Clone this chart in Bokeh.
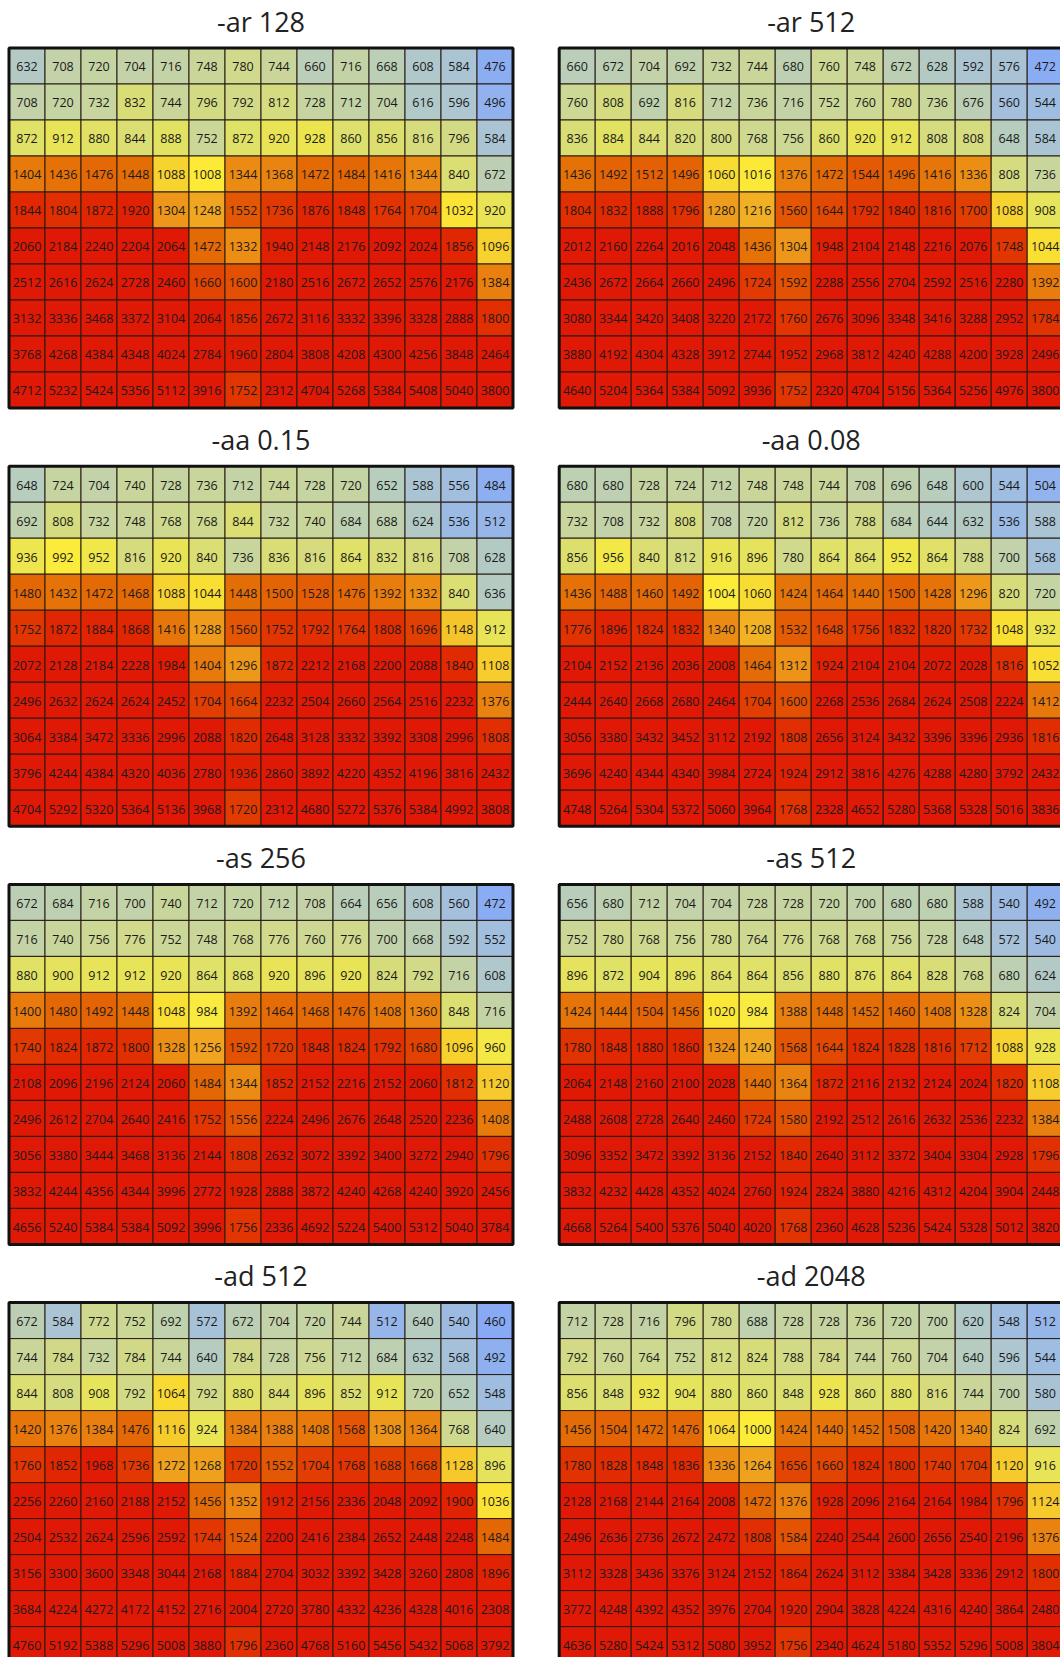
import numpy as np
from bokeh.plotting import figure
from bokeh.models import ColumnDataSource, Range1d, LinearColorMapper
from bokeh.transform import transform
from bokeh.core.properties import value
from bokeh.embed import file_html
from bokeh.resources import INLINE

# ---------------- data ----------------
titles = ["-ar 128", "-ar 512", "-aa 0.15", "-aa 0.08",
          "-as 256", "-as 512", "-ad 512", "-ad 2048"]

ar_128 = [
    [632, 708, 720, 704, 716, 748, 780, 744, 660, 716, 668, 608, 584, 476],
    [708, 720, 732, 832, 744, 796, 792, 812, 728, 712, 704, 616, 596, 496],
    [872, 912, 880, 844, 888, 752, 872, 920, 928, 860, 856, 816, 796, 584],
    [1404, 1436, 1476, 1448, 1088, 1008, 1344, 1368, 1472, 1484, 1416, 1344, 840, 672],
    [1844, 1804, 1872, 1920, 1304, 1248, 1552, 1736, 1876, 1848, 1764, 1704, 1032, 920],
    [2060, 2184, 2240, 2204, 2064, 1472, 1332, 1940, 2148, 2176, 2092, 2024, 1856, 1096],
    [2512, 2616, 2624, 2728, 2460, 1660, 1600, 2180, 2516, 2672, 2652, 2576, 2176, 1384],
    [3132, 3336, 3468, 3372, 3104, 2064, 1856, 2672, 3116, 3332, 3396, 3328, 2888, 1800],
    [3768, 4268, 4384, 4348, 4024, 2784, 1960, 2804, 3808, 4208, 4300, 4256, 3848, 2464],
    [4712, 5232, 5424, 5356, 5112, 3916, 1752, 2312, 4704, 5268, 5384, 5408, 5040, 3800],
]
ar_512 = [
    [660, 672, 704, 692, 732, 744, 680, 760, 748, 672, 628, 592, 576, 472],
    [760, 808, 692, 816, 712, 736, 716, 752, 760, 780, 736, 676, 560, 544],
    [836, 884, 844, 820, 800, 768, 756, 860, 920, 912, 808, 808, 648, 584],
    [1436, 1492, 1512, 1496, 1060, 1016, 1376, 1472, 1544, 1496, 1416, 1336, 808, 736],
    [1804, 1832, 1888, 1796, 1280, 1216, 1560, 1644, 1792, 1840, 1816, 1700, 1088, 908],
    [2012, 2160, 2264, 2016, 2048, 1436, 1304, 1948, 2104, 2148, 2216, 2076, 1748, 1044],
    [2436, 2672, 2664, 2660, 2496, 1724, 1592, 2288, 2556, 2704, 2592, 2516, 2280, 1392],
    [3080, 3344, 3420, 3408, 3220, 2172, 1760, 2676, 3096, 3348, 3416, 3288, 2952, 1784],
    [3880, 4192, 4304, 4328, 3912, 2744, 1952, 2968, 3812, 4240, 4288, 4200, 3928, 2496],
    [4640, 5204, 5364, 5384, 5092, 3936, 1752, 2320, 4704, 5156, 5364, 5256, 4976, 3800],
]
aa_015 = [
    [648, 724, 704, 740, 728, 736, 712, 744, 728, 720, 652, 588, 556, 484],
    [692, 808, 732, 748, 768, 768, 844, 732, 740, 684, 688, 624, 536, 512],
    [936, 992, 952, 816, 920, 840, 736, 836, 816, 864, 832, 816, 708, 628],
    [1480, 1432, 1472, 1468, 1088, 1044, 1448, 1500, 1528, 1476, 1392, 1332, 840, 636],
    [1752, 1872, 1884, 1868, 1416, 1288, 1560, 1752, 1792, 1764, 1808, 1696, 1148, 912],
    [2072, 2128, 2184, 2228, 1984, 1404, 1296, 1872, 2212, 2168, 2200, 2088, 1840, 1108],
    [2496, 2632, 2624, 2624, 2452, 1704, 1664, 2232, 2504, 2660, 2564, 2516, 2232, 1376],
    [3064, 3384, 3472, 3336, 2996, 2088, 1820, 2648, 3128, 3332, 3392, 3308, 2996, 1808],
    [3796, 4244, 4384, 4320, 4036, 2780, 1936, 2860, 3892, 4220, 4352, 4196, 3816, 2432],
    [4704, 5292, 5320, 5364, 5136, 3968, 1720, 2312, 4680, 5272, 5376, 5384, 4992, 3808],
]
aa_008 = [
    [680, 680, 728, 724, 712, 748, 748, 744, 708, 696, 648, 600, 544, 504],
    [732, 708, 732, 808, 708, 720, 812, 736, 788, 684, 644, 632, 536, 588],
    [856, 956, 840, 812, 916, 896, 780, 864, 864, 952, 864, 788, 700, 568],
    [1436, 1488, 1460, 1492, 1004, 1060, 1424, 1464, 1440, 1500, 1428, 1296, 820, 720],
    [1776, 1896, 1824, 1832, 1340, 1208, 1532, 1648, 1756, 1832, 1820, 1732, 1048, 932],
    [2104, 2152, 2136, 2036, 2008, 1464, 1312, 1924, 2104, 2104, 2072, 2028, 1816, 1052],
    [2444, 2640, 2668, 2680, 2464, 1704, 1600, 2268, 2536, 2684, 2624, 2508, 2224, 1412],
    [3056, 3380, 3432, 3452, 3112, 2192, 1808, 2656, 3124, 3432, 3396, 3396, 2936, 1816],
    [3696, 4240, 4344, 4340, 3984, 2724, 1924, 2912, 3816, 4276, 4288, 4280, 3792, 2432],
    [4748, 5264, 5304, 5372, 5060, 3964, 1768, 2328, 4652, 5280, 5368, 5328, 5016, 3836],
]
as_256 = [
    [672, 684, 716, 700, 740, 712, 720, 712, 708, 664, 656, 608, 560, 472],
    [716, 740, 756, 776, 752, 748, 768, 776, 760, 776, 700, 668, 592, 552],
    [880, 900, 912, 912, 920, 864, 868, 920, 896, 920, 824, 792, 716, 608],
    [1400, 1480, 1492, 1448, 1048, 984, 1392, 1464, 1468, 1476, 1408, 1360, 848, 716],
    [1740, 1824, 1872, 1800, 1328, 1256, 1592, 1720, 1848, 1824, 1792, 1680, 1096, 960],
    [2108, 2096, 2196, 2124, 2060, 1484, 1344, 1852, 2152, 2216, 2152, 2060, 1812, 1120],
    [2496, 2612, 2704, 2640, 2416, 1752, 1556, 2224, 2496, 2676, 2648, 2520, 2236, 1408],
    [3056, 3380, 3444, 3468, 3136, 2144, 1808, 2632, 3072, 3392, 3400, 3272, 2940, 1796],
    [3832, 4244, 4356, 4344, 3996, 2772, 1928, 2888, 3872, 4240, 4268, 4240, 3920, 2456],
    [4656, 5240, 5384, 5384, 5092, 3996, 1756, 2336, 4692, 5224, 5400, 5312, 5040, 3784],
]
as_512 = [
    [656, 680, 712, 704, 704, 728, 728, 720, 700, 680, 680, 588, 540, 492],
    [752, 780, 768, 756, 780, 764, 776, 768, 768, 756, 728, 648, 572, 540],
    [896, 872, 904, 896, 864, 864, 856, 880, 876, 864, 828, 768, 680, 624],
    [1424, 1444, 1504, 1456, 1020, 984, 1388, 1448, 1452, 1460, 1408, 1328, 824, 704],
    [1780, 1848, 1880, 1860, 1324, 1240, 1568, 1644, 1824, 1828, 1816, 1712, 1088, 928],
    [2064, 2148, 2160, 2100, 2028, 1440, 1364, 1872, 2116, 2132, 2124, 2024, 1820, 1108],
    [2488, 2608, 2728, 2640, 2460, 1724, 1580, 2192, 2512, 2616, 2632, 2536, 2232, 1384],
    [3096, 3352, 3472, 3392, 3136, 2152, 1840, 2640, 3112, 3372, 3404, 3304, 2928, 1796],
    [3832, 4232, 4428, 4352, 4024, 2760, 1924, 2824, 3880, 4216, 4312, 4204, 3904, 2448],
    [4668, 5264, 5400, 5376, 5040, 4020, 1768, 2360, 4628, 5236, 5424, 5328, 5012, 3820],
]
ad_512 = [
    [672, 584, 772, 752, 692, 572, 672, 704, 720, 744, 512, 640, 540, 460],
    [744, 784, 732, 784, 744, 640, 784, 728, 756, 712, 684, 632, 568, 492],
    [844, 808, 908, 792, 1064, 792, 880, 844, 896, 852, 912, 720, 652, 548],
    [1420, 1376, 1384, 1476, 1116, 924, 1384, 1388, 1408, 1568, 1308, 1364, 768, 640],
    [1760, 1852, 1968, 1736, 1272, 1268, 1720, 1552, 1704, 1768, 1688, 1668, 1128, 896],
    [2256, 2260, 2160, 2188, 2152, 1456, 1352, 1912, 2156, 2336, 2048, 2092, 1900, 1036],
    [2504, 2532, 2624, 2596, 2592, 1744, 1524, 2200, 2416, 2384, 2652, 2448, 2248, 1484],
    [3156, 3300, 3600, 3348, 3044, 2168, 1884, 2704, 3032, 3392, 3428, 3260, 2808, 1896],
    [3684, 4224, 4272, 4172, 4152, 2716, 2004, 2720, 3780, 4332, 4236, 4328, 4016, 2308],
    [4760, 5192, 5388, 5296, 5008, 3880, 1796, 2360, 4768, 5160, 5456, 5432, 5068, 3792],
]
ad_2048 = [
    [712, 728, 716, 796, 780, 688, 728, 728, 736, 720, 700, 620, 548, 512],
    [792, 760, 764, 752, 812, 824, 788, 784, 744, 760, 704, 640, 596, 544],
    [856, 848, 932, 904, 880, 860, 848, 928, 860, 880, 816, 744, 700, 580],
    [1456, 1504, 1472, 1476, 1064, 1000, 1424, 1440, 1452, 1508, 1420, 1340, 824, 692],
    [1780, 1828, 1848, 1836, 1336, 1264, 1656, 1660, 1824, 1800, 1740, 1704, 1120, 916],
    [2128, 2168, 2144, 2164, 2008, 1472, 1376, 1928, 2096, 2164, 2164, 1984, 1796, 1124],
    [2496, 2636, 2736, 2672, 2472, 1808, 1584, 2240, 2544, 2600, 2656, 2540, 2196, 1376],
    [3112, 3328, 3436, 3376, 3124, 2152, 1864, 2624, 3112, 3384, 3428, 3336, 2912, 1800],
    [3772, 4248, 4392, 4352, 3976, 2704, 1920, 2904, 3828, 4224, 4316, 4240, 3864, 2480],
    [4636, 5280, 5424, 5312, 5080, 3952, 1756, 2340, 4624, 5180, 5352, 5296, 5008, 3804],
]

panels = [ar_128, ar_512, aa_015, aa_008, as_256, as_512, ad_512, ad_2048]

# ---------------- colour scale (style) ----------------
anchor_v = [460, 520, 580, 640, 700, 760, 820, 880, 940, 1000, 1100, 1250,
            1350, 1450, 1550, 1700, 1850, 2000, 2100]
anchor_rgb = [(136, 170, 245), (152, 184, 232), (170, 196, 212), (182, 204, 192),
              (194, 210, 170), (205, 216, 146), (215, 220, 122), (225, 226, 100),
              (238, 230, 76), (252, 236, 56), (247, 208, 46), (240, 166, 32),
              (235, 136, 18), (228, 110, 6), (228, 88, 4), (226, 62, 2),
              (225, 40, 2), (224, 26, 4), (224, 24, 6)]
lo, hi = anchor_v[0], anchor_v[-1]
vv = np.linspace(lo, hi, 256)
chan = np.array(anchor_rgb, dtype=float)
pal = []
for v in vv:
    rgb = [int(round(np.interp(v, anchor_v, chan[:, i]))) for i in range(3)]
    pal.append("#%02x%02x%02x" % tuple(rgb))
mapper = LinearColorMapper(palette=pal, low=lo, high=hi)

# ---------------- layout (page px) ----------------
W, H = 1060, 1657
CELL = 36
NCOL, NROW = 14, 10
LEFTS = [8.5, 558.7]
TOP0, STEP = 47.5, 418.2

xs, ys, tys, vals, labels = [], [], [], [], []
bx, by, tx, tyt = [], [], [], []
for k, grid in enumerate(panels):
    col, row = k % 2, k // 2
    left = LEFTS[col]
    top = TOP0 + STEP * row
    bx.append(left + NCOL * CELL / 2)
    by.append(top + NROW * CELL / 2)
    tx.append(left + NCOL * CELL / 2)
    tyt.append(top - 27)
    for r, rowvals in enumerate(grid):
        for c, v in enumerate(rowvals):
            xs.append(left + (c + 0.5) * CELL)
            ys.append(top + (r + 0.5) * CELL)
            tys.append(top + (r + 0.5) * CELL + 0.8)
            vals.append(v)
            labels.append(str(v))

src = ColumnDataSource(dict(x=xs, y=ys, ty=tys, v=vals, label=labels))

p = figure(width=W, height=H, x_range=Range1d(0, W), y_range=Range1d(H, 0),
           output_backend="svg", toolbar_location=None,
           x_axis_location=None, y_axis_location=None, min_border=0)
p.grid.visible = False
p.outline_line_color = None
p.background_fill_color = "white"
p.border_fill_color = "white"

p.rect(x="x", y="y", width=CELL, height=CELL, source=src,
       fill_color=transform("v", mapper), line_color="#261a12", line_width=1)
p.text(x="x", y="ty", text="label", source=src,
       text_font=value("Open Sans"), text_font_size="12.5px",
       text_align="center", text_baseline="alphabetic", text_color="#1a1a1a")

p.rect(x=bx, y=by, width=NCOL * CELL, height=NROW * CELL,
       fill_color=None, line_color="#111111", line_width=3)
p.text(x=tx, y=tyt, text=titles, text_font=value("Open Sans"),
       text_font_size="27px", text_align="center", text_baseline="alphabetic",
       text_color="#222222")

open("out.html", "w").write(file_html(p, INLINE, title="heatmaps"))
